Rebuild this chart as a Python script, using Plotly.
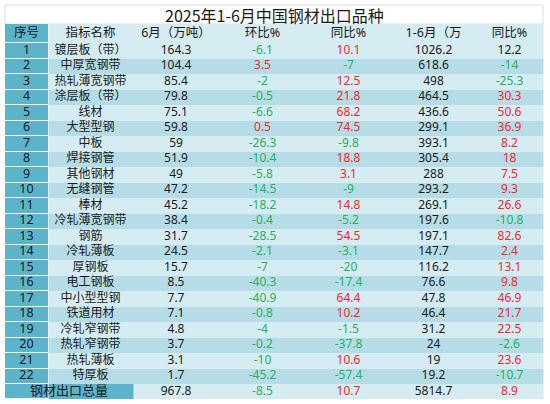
import plotly.graph_objects as go

title = "2025年1-6月中国钢材出口品种"
headers = ["序号", "指标名称", "6月（万吨）", "环比%", "同比%", "1-6月（万", "同比%"]

names = ["镀层板（带）", "中厚宽钢带", "热轧薄宽钢带", "涂层板（带）", "线材", "大型型钢",
         "中板", "焊接钢管", "其他钢材", "无缝钢管", "棒材", "冷轧薄宽钢带", "钢筋",
         "冷轧薄板", "厚钢板", "电工钢板", "中小型型钢", "铁道用材", "冷轧窄钢带",
         "热轧窄钢带", "热轧薄板", "特厚板"]
june = [164.3, 104.4, 85.4, 79.8, 75.1, 59.8, 59, 51.9, 49, 47.2, 45.2, 38.4, 31.7,
        24.5, 15.7, 8.5, 7.7, 7.1, 4.8, 3.7, 3.1, 1.7]
june_mom = [-6.1, 3.5, -2, -0.5, -6.6, 0.5, -26.3, -10.4, -5.8, -14.5, -18.2, -0.4,
            -28.5, -2.1, -7, -40.3, -40.9, -0.8, -4, -0.2, -10, -45.2]
june_yoy = [10.1, -7, 12.5, 21.8, 68.2, 74.5, -9.8, 18.8, 3.1, -9, 14.8, -5.2, 54.5,
            -3.1, -20, -17.4, 64.4, 10.2, -1.5, -37.8, 10.6, -57.4]
ytd = [1026.2, 618.6, 498, 464.5, 436.6, 299.1, 393.1, 305.4, 288, 293.2, 269.1,
       197.6, 197.1, 147.7, 116.2, 76.6, 47.8, 46.4, 31.2, 24, 19, 19.2]
ytd_yoy = [12.2, -14, -25.3, 30.3, 50.6, 36.9, 8.2, 18, 7.5, 9.3, 26.6, -10.8, 82.6,
           2.4, 13.1, 9.8, 46.9, 21.7, 22.5, -2.6, 23.6, -10.7]

total_label = "钢材出口总量"
total = [967.8, -8.5, 10.7, 5814.7, 8.9]

TEAL = "#5cb4ca"
LIGHT = "#d5ecf2"
DARK = "#b6dde7"
RED = "#f5272b"
GREEN = "#27b15c"
BLACK = "#1a1a1a"
FONT = "Noto Sans, Noto Sans CJK SC"

W, H = 550, 404
n = len(names)

# layout grid in pixels (axes are mapped 1:1 onto the page)
col_edges = [5, 48, 133, 219, 306, 391, 476, 543]
row_h = 15.5
row_edges = [24, 43] + [43 + row_h * (i + 1) for i in range(n)] + [43 + row_h * n + 15]
title_box = (5, 5, 543, 24)


def fmt(v):
    return f"{v:g}"


def sign_color(v):
    return RED if v > 0 else GREEN


col_mid = [(a + b) / 2 for a, b in zip(col_edges[:-1], col_edges[1:])]
row_mid = [(a + b) / 2 for a, b in zip(row_edges[:-1], row_edges[1:])]

# fill codes: 0 teal, 1 light, 2 dark
body_z = [[1] * 6]
body_z += [[1 if i % 2 == 0 else 2] * 6 for i in range(n)]
body_z += [[0] + [1] * 5]
seq_z = [[0] for _ in range(n + 2)]
scale = [[0, TEAL], [0.5, LIGHT], [1, DARK]]

fig = go.Figure()
fig.add_trace(go.Heatmap(x=[col_edges[1] + 0.5] + col_edges[2:], y=row_edges, z=body_z,
                         colorscale=scale, zmin=0, zmax=2, showscale=False, hoverinfo="skip"))
fig.add_trace(go.Heatmap(x=[col_edges[0], col_edges[1] - 0.5], y=row_edges, z=seq_z,
                         colorscale=scale, zmin=0, zmax=2, showscale=False, ygap=1,
                         hoverinfo="skip"))

# cell texts
columns = [[str(i + 1) for i in range(n)], names,
           [fmt(v) for v in june], [fmt(v) for v in june_mom], [fmt(v) for v in june_yoy],
           [fmt(v) for v in ytd], [fmt(v) for v in ytd_yoy]]
colors = [[BLACK] * n, [BLACK] * n, [BLACK] * n,
          [sign_color(v) for v in june_mom], [sign_color(v) for v in june_yoy],
          [BLACK] * n, [sign_color(v) for v in ytd_yoy]]
colors[6][0] = BLACK  # first row left black in the source

xs, ys, ts, cs, ss = [], [], [], [], []
for c in range(7):
    xs.append(col_mid[c]); ys.append(row_mid[0]); ts.append(headers[c]); cs.append(BLACK); ss.append(12.5)
    for r in range(n):
        xs.append(col_mid[c]); ys.append(row_mid[r + 1]); ts.append(columns[c][r])
        cs.append(colors[c][r]); ss.append(12.5 if c == 0 else 12)

# total row: label spans the first two columns
xs.append((col_edges[0] + col_edges[2]) / 2); ys.append(row_mid[-1]); ts.append(total_label)
cs.append(BLACK); ss.append(13)
tot_colors = [BLACK, sign_color(total[1]), sign_color(total[2]), BLACK, sign_color(total[4])]
for k, v in enumerate(total):
    xs.append(col_mid[k + 2]); ys.append(row_mid[-1]); ts.append(fmt(v))
    cs.append(tot_colors[k]); ss.append(12)

fig.add_trace(go.Scatter(x=xs, y=ys, text=ts, mode="text", textposition="middle center",
                         textfont=dict(family=FONT, size=ss, color=cs), hoverinfo="skip"))

fig.add_shape(type="rect", x0=title_box[0], y0=title_box[1], x1=title_box[2], y1=title_box[3],
              line=dict(color="#dedede", width=1), fillcolor="white", layer="below")
fig.add_annotation(x=(title_box[0] + title_box[2]) / 2, y=(title_box[1] + title_box[3]) / 2,
                   text=title, showarrow=False,
                   font=dict(family="Noto Sans CJK SC", size=16, color=BLACK))

fig.update_layout(width=W, height=H, margin=dict(l=0, r=0, t=0, b=0),
                  paper_bgcolor="white", plot_bgcolor="white", showlegend=False,
                  xaxis=dict(range=[0, W], visible=False, fixedrange=True),
                  yaxis=dict(range=[H, 0], visible=False, fixedrange=True))
fig.write_html("out.html", config={"displayModeBar": False},
               post_script="document.body.style.margin='0';")
